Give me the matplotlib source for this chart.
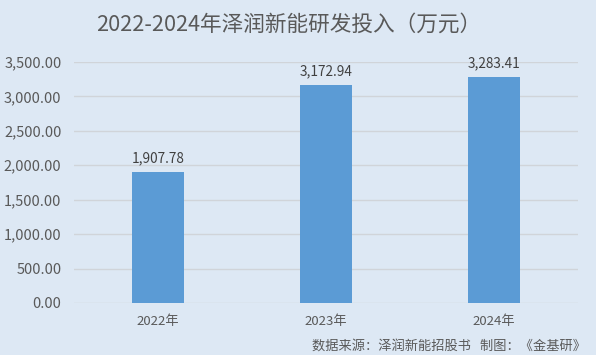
import matplotlib
matplotlib.use("Agg")
import matplotlib.pyplot as plt
from matplotlib.ticker import FuncFormatter

plt.rcParams['font.family'] = ['Noto Sans CJK SC', 'DejaVu Sans']

years = ["2022年", "2023年", "2024年"]
values = [1907.78, 3172.94, 3283.41]
yticks = [0, 500, 1000, 1500, 2000, 2500, 3000, 3500]

bg = "#dde8f4"
text_c = "#595959"

fig = plt.figure(figsize=(5.96, 3.55), dpi=100, facecolor=bg)
ax = fig.add_axes([74 / 596, 1 - 303 / 355, 504 / 596, 241 / 355])
ax.set_facecolor(bg)

x = range(len(years))
ax.bar(x, values, width=0.31, color="#5b9bd5", zorder=3)
for i, v in zip(x, values):
    ax.text(i, v + 95, f"{v:,.2f}", ha="center", va="bottom", fontsize=9.8, color="#404040")

ax.set_xlim(-0.5, len(years) - 0.5)
ax.set_ylim(0, 3500)
ax.set_yticks(yticks)
ax.yaxis.set_major_formatter(FuncFormatter(lambda v, p: f"{v:,.2f}"))
ax.set_xticks(list(x))
ax.set_xticklabels(years)
ax.tick_params(axis="both", length=0, labelsize=9.5, colors=text_c)
ax.tick_params(axis="y", labelsize=10.5, pad=9)
ax.tick_params(axis="x", pad=9)
ax.grid(axis="y", color="#d0d4d9", linewidth=1, zorder=0)
for s in ax.spines.values():
    s.set_visible(False)

fig.text(289 / 596, 1 - 25 / 355, "2022-2024年泽润新能研发投入（万元）", ha="center", va="center",
         fontsize=15.6, color=text_c)
fig.text(586 / 596, 1 - 346 / 355, "数据来源：泽润新能招股书   制图：《金基研》", ha="right", va="center",
         fontsize=9.5, color=text_c)

fig.savefig("out.png", dpi=100, facecolor=bg)
